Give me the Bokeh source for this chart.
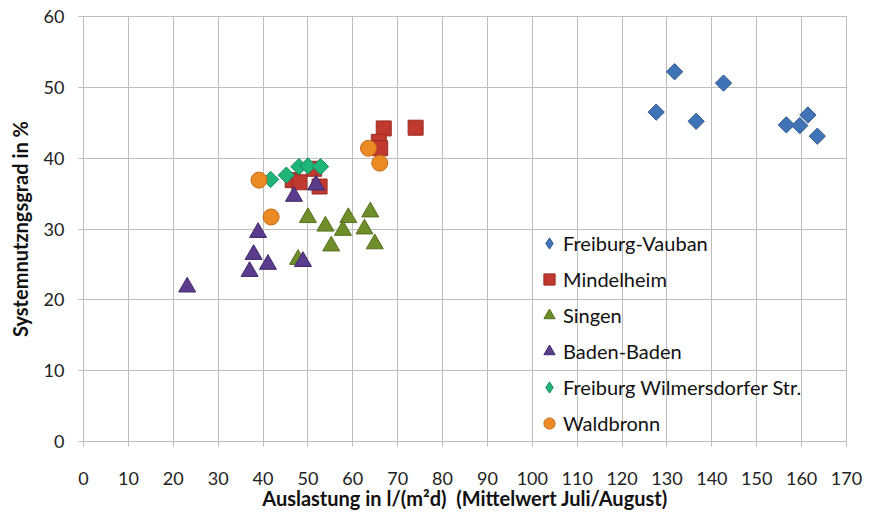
import numpy as np
from bokeh.plotting import figure
from bokeh.models import Range1d, Legend, LegendItem, FixedTicker
from bokeh.embed import file_html
from bokeh.resources import INLINE

# ---- data ----
vauban_x = [127.6, 131.7, 136.5, 142.6, 156.6, 159.6, 161.4, 163.5]
vauban_y = [46.5, 52.2, 45.2, 50.6, 44.7, 44.6, 46.1, 43.1]

mindel_x = [46.6, 48.1, 51.4, 52.6, 66.9, 65.8, 66.1, 74.0]
mindel_y = [36.9, 36.6, 38.5, 36.0, 44.2, 42.3, 41.4, 44.3]

singen_x = [50.0, 53.9, 59.0, 57.8, 63.9, 62.6, 55.2, 64.9, 47.8]
singen_y = [31.6, 30.4, 31.6, 29.8, 32.4, 30.0, 27.6, 27.9, 25.7]

baden_x = [23.1, 37.0, 37.9, 38.9, 41.1, 46.9, 48.9, 51.8]
baden_y = [21.8, 24.0, 26.4, 29.5, 25.0, 34.6, 25.4, 36.2]

wilm_x = [41.7, 45.2, 48.0, 50.0, 52.8]
wilm_y = [37.0, 37.6, 38.8, 38.9, 38.8]

wald_x = [39.1, 41.8, 63.5, 66.0]
wald_y = [36.9, 31.7, 41.4, 39.3]

series_names = ["Freiburg-Vauban", "Mindelheim", "Singen", "Baden-Baden",
                "Freiburg Wilmersdorfer Str.", "Waldbronn"]

x_ticks = list(range(0, 171, 10))
y_ticks = list(range(0, 61, 10))

x_title = "Auslastung in l/(m²d) \u00a0(Mittelwert Juli/August)"
y_title = "Systemnutzngsgrad in %"

FONT = "Lato"
GRID = "#bdbdbd"

p = figure(width=864, height=514, output_backend="svg", toolbar_location=None,
           x_range=Range1d(0, 170), y_range=Range1d(0, 60),
           min_border_left=83, min_border_right=18, min_border_top=16,
           min_border_bottom=73)
p.outline_line_color = GRID
p.background_fill_color = "white"
p.border_fill_color = "white"

for ax, ticks in ((p.xaxis[0], x_ticks), (p.yaxis[0], y_ticks)):
    ax.ticker = FixedTicker(ticks=ticks)
    ax.axis_line_color = GRID
    ax.major_tick_line_color = GRID
    ax.major_tick_out = 5
    ax.major_tick_in = 0
    ax.minor_tick_line_color = None
    ax.major_label_text_font = FONT
    ax.major_label_text_font_size = "18px"
    ax.major_label_text_color = "#222222"
    ax.axis_label_text_font = FONT
    ax.axis_label_text_font_style = "bold"
    ax.axis_label_text_color = "#111111"
    ax.axis_label_text_font_size = "20px"

p.xaxis.axis_label = x_title
p.yaxis.axis_label = y_title
p.xaxis.major_label_standoff = 25
p.yaxis.major_label_standoff = 14
p.xaxis.axis_label_standoff = -2
p.yaxis.axis_label_standoff = 9

p.xgrid.ticker = FixedTicker(ticks=x_ticks)
p.ygrid.ticker = FixedTicker(ticks=y_ticks)
p.xgrid.grid_line_color = GRID
p.ygrid.grid_line_color = GRID

BLUE, BLUE_L = "#3f73b6", "#2f5a92"
TEAL, TEAL_L = "#1fb478", "#168a5c"

r1 = p.scatter(vauban_x, vauban_y, marker="square", size=11.5, angle=np.pi / 4,
               fill_color=BLUE, line_color=BLUE_L, line_width=1)
r2 = p.scatter(mindel_x, mindel_y, marker="square", size=15,
               fill_color="#c0392f", line_color="#9a2a24", line_width=1)
r3 = p.scatter(singen_x, singen_y, marker="triangle", size=17,
               fill_color="#6e8e2a", line_color="#55701d", line_width=1)
r4 = p.scatter(baden_x, baden_y, marker="triangle", size=17,
               fill_color="#5b3c8c", line_color="#43296d", line_width=1)
r5 = p.scatter(wilm_x, wilm_y, marker="square", size=11.5, angle=np.pi / 4,
               fill_color=TEAL, line_color=TEAL_L, line_width=1)
r6 = p.scatter(wald_x, wald_y, marker="circle", size=16,
               fill_color="#ec8a25", line_color="#c56b14", line_width=1)

# legend-only renderers (hidden) so the legend shows diamond glyphs
l1 = p.scatter(vauban_x, vauban_y, marker="diamond", size=12,
               fill_color=BLUE, line_color=BLUE_L, line_width=1, visible=False)
l5 = p.scatter(wilm_x, wilm_y, marker="diamond", size=12,
               fill_color=TEAL, line_color=TEAL_L, line_width=1, visible=False)

legend = Legend(items=[LegendItem(label=n, renderers=[r]) for n, r in
                       zip(series_names, [l1, r2, r3, r4, l5, r6])],
                location=(452, 4), orientation="vertical",
                border_line_alpha=0, background_fill_alpha=0,
                inactive_fill_alpha=0,
                padding=0, margin=0, spacing=8, label_height=21,
                glyph_height=28, glyph_width=28, label_standoff=0,
                label_text_font=FONT, label_text_font_size="20px",
                label_text_color="#111111")
p.add_layout(legend)

open("out.html", "w").write(file_html(p, INLINE))
